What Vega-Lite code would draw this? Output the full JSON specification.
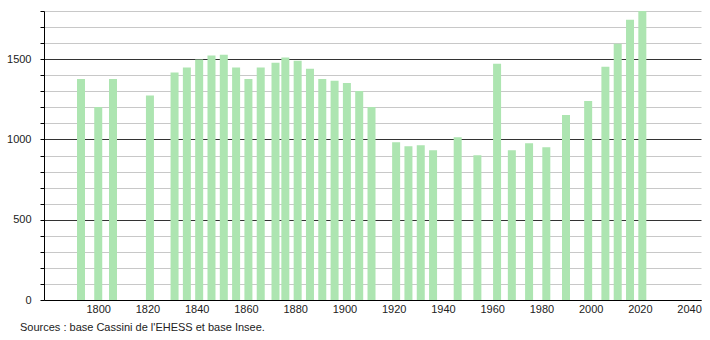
{
  "$schema": "https://vega.github.io/schema/vega-lite/v6.json",
  "autosize": "none",
  "width": 657,
  "height": 289,
  "padding": {"left": 44, "top": 11, "right": 9, "bottom": 40},
  "config": {
    "view": {"stroke": null},
    "font": "Liberation Sans",
    "axis": {"labelFont": "Liberation Sans", "labelFontSize": 11, "labelColor": "#222"}
  },
  "title": {
    "text": "Sources : base Cassini de l'EHESS et base Insee.",
    "orient": "bottom",
    "anchor": "start",
    "frame": "group",
    "dx": -24,
    "offset": 8,
    "fontSize": 11,
    "fontWeight": "normal",
    "color": "#222",
    "font": "Liberation Sans"
  },
  "data": {
    "values": [
      {"year": 1793, "pop": 1377},
      {"year": 1800, "pop": 1202},
      {"year": 1806, "pop": 1377},
      {"year": 1821, "pop": 1273},
      {"year": 1831, "pop": 1417},
      {"year": 1836, "pop": 1448},
      {"year": 1841, "pop": 1498},
      {"year": 1846, "pop": 1523},
      {"year": 1851, "pop": 1527},
      {"year": 1856, "pop": 1448},
      {"year": 1861, "pop": 1377},
      {"year": 1866, "pop": 1448},
      {"year": 1872, "pop": 1477},
      {"year": 1876, "pop": 1510},
      {"year": 1881, "pop": 1490},
      {"year": 1886, "pop": 1440},
      {"year": 1891, "pop": 1377},
      {"year": 1896, "pop": 1365},
      {"year": 1901, "pop": 1352},
      {"year": 1906, "pop": 1302},
      {"year": 1911, "pop": 1202},
      {"year": 1921, "pop": 983},
      {"year": 1926, "pop": 958},
      {"year": 1931, "pop": 964},
      {"year": 1936, "pop": 933},
      {"year": 1946, "pop": 1014},
      {"year": 1954, "pop": 902},
      {"year": 1962, "pop": 1471},
      {"year": 1968, "pop": 933},
      {"year": 1975, "pop": 977},
      {"year": 1982, "pop": 952},
      {"year": 1990, "pop": 1152},
      {"year": 1999, "pop": 1240},
      {"year": 2006, "pop": 1452},
      {"year": 2011, "pop": 1596},
      {"year": 2016, "pop": 1746},
      {"year": 2021, "pop": 1800}
    ]
  },
  "mark": {"type": "bar", "width": 8, "color": "#ade5b1"},
  "encoding": {
    "x": {
      "field": "year",
      "type": "quantitative",
      "scale": {"domain": [1780, 2042.8], "nice": false, "zero": false},
      "axis": {
        "title": null,
        "values": [1800, 1820, 1840, 1860, 1880, 1900, 1920, 1940, 1960, 1980, 2000, 2020, 2040],
        "format": "d",
        "ticks": false,
        "grid": false,
        "domainColor": "#000",
        "domainWidth": 1,
        "labelPadding": 3,
        "labelFlush": false,
        "labelOverlap": false
      }
    },
    "y": {
      "field": "pop",
      "type": "quantitative",
      "scale": {"domain": [0, 1800], "nice": false},
      "axis": {
        "title": null,
        "values": [0, 100, 200, 300, 400, 500, 600, 700, 800, 900, 1000, 1100, 1200, 1300, 1400, 1500, 1600, 1700, 1800],
        "labelExpr": "datum.value % 500 === 0 ? datum.label : ''",
        "format": "d",
        "tickSize": 4,
        "tickColor": "#000",
        "domainColor": "#000",
        "labelPadding": 9,
        "grid": true,
        "gridColor": {"condition": {"test": "datum.value % 500 === 0", "value": "#333"}, "value": "#c8c8c8"},
        "gridWidth": 1,
        "labelOverlap": false
      }
    }
  }
}
